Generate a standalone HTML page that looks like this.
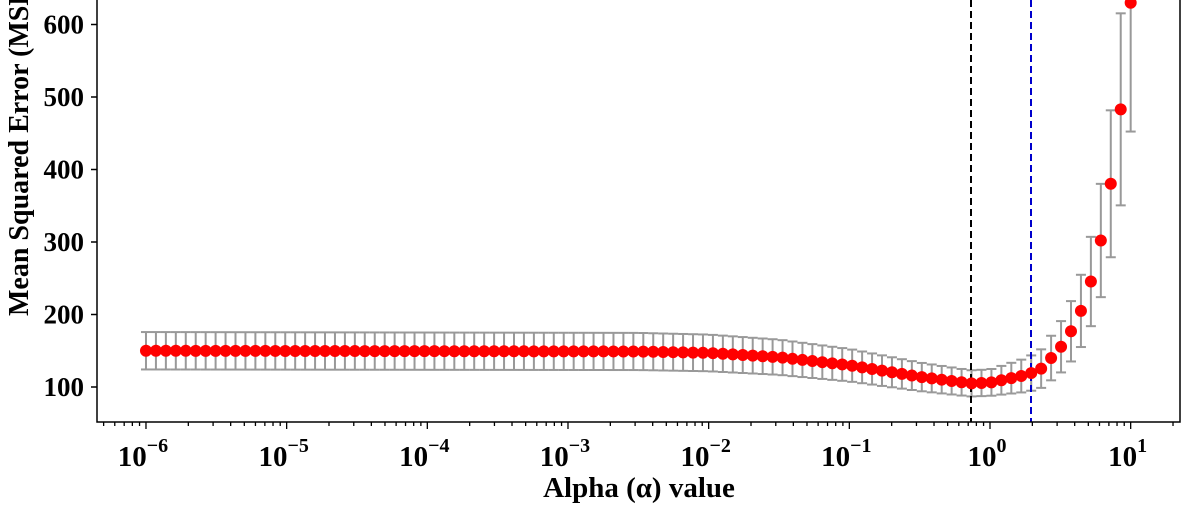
<!DOCTYPE html>
<html><head><meta charset="utf-8"><style>body{margin:0;background:#fff}</style></head>
<body>
<svg id="s" width="1187" height="506" xmlns="http://www.w3.org/2000/svg" font-family="Liberation Serif, serif" font-weight="bold">
</svg>
<script>
const s=document.getElementById('s');
const X=t=>990+140.67*t, Y=v=>387-(v-100)*0.725;
let h='';
const k=[[-6,150],[-2.5,149],[-2,147],[-1.5,141],[-1,130],[-0.5,114],[-0.14,105],[0,106],[0.22,115],[0.29,119],[0.357,124],[0.43,139],[0.5,154],[0.571,175],[0.643,203],[0.714,243],[0.786,300],[0.857,378],[0.93,484],[1,630]];
function m(t){for(let i=0;i<k.length-1;i++){if(t<=k[i+1][0]+1e-9){const f=(t-k[i][0])/(k[i+1][0]-k[i][0]);return k[i][1]+f*(k[i+1][1]-k[i][1]);}}return 630;}
let bars='',dots='';
for(let i=0;i<100;i++){const t=-6+7*i/99,v=m(t),r=t<0?0.172:0.172+0.11*t,e=v*r;const x=X(t);
bars+=`<line x1="${x}" y1="${Y(v+e)}" x2="${x}" y2="${Y(v-e)}"/><line x1="${x-5}" y1="${Y(v+e)}" x2="${x+5}" y2="${Y(v+e)}"/><line x1="${x-5}" y1="${Y(v-e)}" x2="${x+5}" y2="${Y(v-e)}"/>`;
dots+=`<circle cx="${x}" cy="${Y(v)}" r="6"/>`;}
h+=`<g stroke="#999" stroke-width="2">${bars}</g>`;
h+=`<line x1="971" y1="0" x2="971" y2="422" stroke="#000" stroke-width="2" stroke-dasharray="7,4"/>`;
h+=`<line x1="1031" y1="0" x2="1031" y2="422" stroke="#00c" stroke-width="2" stroke-dasharray="7,4"/>`;
h+=`<g fill="#f00">${dots}</g>`;
h+=`<path d="M97,0V422H1180V0" fill="none" stroke="#000" stroke-width="1.5"/>`;
for(const v of [100,200,300,400,500,600]){const y=Y(v);h+=`<line x1="91" y1="${y}" x2="97" y2="${y}" stroke="#000" stroke-width="1.5"/><text x="84" y="${y+9}" font-size="27" text-anchor="end">${v}</text>`;}
for(let d=-7;d<=1;d++){for(let j=1;j<10;j++){const t=d+Math.log10(j),x=X(t);if(x<97||x>1180)continue;
h+=`<line x1="${x}" y1="422" x2="${x}" y2="${j==1?429:426}" stroke="#000" stroke-width="1.3"/>`;
if(j==1)h+=`<text x="${x-3}" y="466" font-size="29" text-anchor="middle">10<tspan dy="-14" font-size="20">${d<0?'−'+(-d):d}</tspan></text>`;}}
h+=`<text x="639" y="497" font-size="29" text-anchor="middle">Alpha (α) value</text>`;
h+=`<text transform="translate(28,316) rotate(-90)" font-size="28">Mean Squared Error (MSE)</text>`;
s.innerHTML=h;
</script>
</body></html>
